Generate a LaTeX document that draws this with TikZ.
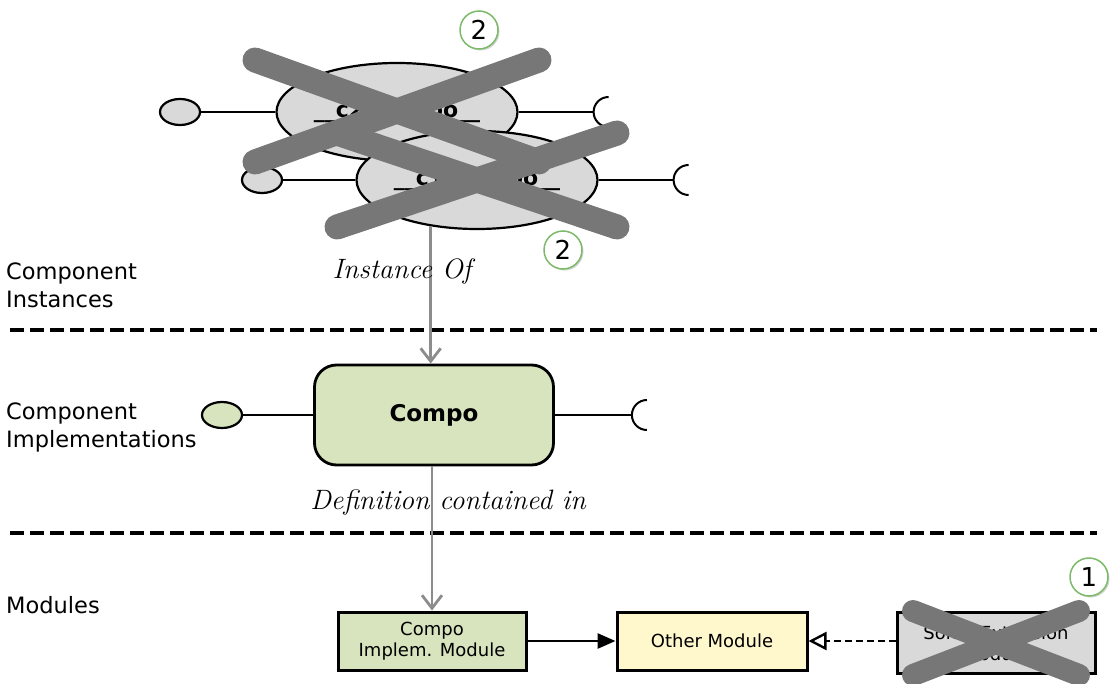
\documentclass[tikz,border=0pt]{standalone}
\usepackage{fontspec}
\setmainfont{DejaVu Sans}
\newfontfamily\handfont{Latin Modern Roman}
\usetikzlibrary{arrows.meta, shapes.geometric, shadows}
\definecolor{instgray}{HTML}{D9D9D9}
\definecolor{implgreen}{HTML}{D7E4BD}
\definecolor{modyellow}{HTML}{FFF8CC}
\definecolor{crossgray}{HTML}{777777}
\definecolor{linkgray}{HTML}{8C8C8C}
\definecolor{badgegreen}{HTML}{7DBA6A}

\tikzset{
  inst/.style={ellipse, draw, line width=2.2, fill=instgray, minimum width=241, minimum height=98, inner sep=0},
  insttext/.style={font=\bfseries\fontsize{22}{24}\selectfont, inner sep=0},
  lolli/.style={ellipse, draw, line width=2.2, minimum width=40, minimum height=26, inner sep=0},
  wire/.style={line width=2},
  impl/.style={rectangle, rounded corners=22, draw, line width=2.8, fill=implgreen,
    minimum width=239, minimum height=100, font=\bfseries\fontsize{23}{26}\selectfont},
  module/.style={rectangle, draw, line width=3, minimum width=188, minimum height=58,
    align=center, font=\fontsize{18}{21}\selectfont},
  sectlbl/.style={anchor=west, align=left, inner sep=0, font=\fontsize{22.5}{28}\selectfont},
  hand/.style={inner sep=0, font=\handfont\itshape\fontsize{28}{30}\selectfont},
  sepline/.style={line width=4, dash pattern=on 14pt off 6pt},
  instof/.style={draw=linkgray, line width=2.8, -{Straight Barb[length=13pt, width=20pt, line width=2.8pt]}},
  uses/.style={line width=2.8, -{Triangle[length=18pt, width=15pt]}},
  extends/.style={line width=2.8, dash pattern=on 7pt off 4pt, -{Triangle[open, length=18pt, width=18pt, line width=2.4pt]}},
  xmark/.style={draw=crossgray, line width=25, line cap=round},
  badge/.style={circle, draw=badgegreen, line width=1.5, fill=white, minimum size=38, inner sep=0,
    drop shadow={shadow xshift=1.5pt, shadow yshift=-1.5pt, fill=black!35},
    font=\fontsize{26}{28}\selectfont},
}

\begin{document}
\begin{tikzpicture}[x=1pt, y=-1pt]
    \useasboundingbox (0,0) rectangle (1110,684);
    % Layer labels
    \node[sectlbl] (lblinst) at (6,285) {Component\\Instances};
    \node[sectlbl] (lblimpl) at (6,427) {Component\\Implementations};
    \node[sectlbl] (lblmod) at (6,605) {Modules};
    % Layer separators
    \coordinate (sepAl) at (10,330);
    \coordinate (sepAr) at (1097,330);
    \coordinate (sepBl) at (10,533);
    \coordinate (sepBr) at (1097,533);
    \draw[sepline] (sepAl) -- (sepAr);
    \draw[sepline] (sepBl) -- (sepBr);
    % Instance c2
    \node[inst] (c2inst) at (397,112) {};
    \node[insttext] (c2text) at (c2inst) {\_\_c2:Compo\_\_};
    \node[lolli, fill=instgray] (c2prov) at (180,112) {};
    \draw[wire] (c2prov) -- (c2inst);
    \draw[wire] (c2inst.east) -- ++(75,0) coordinate (c2sock);
    \draw[wire] (c2sock) ++(15,-15) arc[start angle=90, end angle=270, radius=15pt];
    % Instance c1
    \node[inst] (c1inst) at (477,180) {};
    \node[insttext] (c1text) at (c1inst) {\_\_c1:Compo\_\_};
    \node[lolli, fill=instgray] (c1prov) at (262,180) {};
    \draw[wire] (c1prov) -- (c1inst);
    \draw[wire] (c1inst.east) -- ++(75,0) coordinate (c1sock);
    \draw[wire] (c1sock) ++(15,-15) arc[start angle=90, end angle=270, radius=15pt];
    % Implementation
    \node[impl] (compo) at (434,415) {Compo};
    \node[lolli, fill=implgreen] (compoprov) at (222,415) {};
    \draw[wire] (compoprov) -- (compo);
    \draw[wire] (compo.east) -- ++(77,0) coordinate (composock);
    \draw[wire] (composock) ++(15,-15) arc[start angle=90, end angle=270, radius=15pt];
    % Modules
    \node[module, fill=implgreen] (implmod) at (432,641) {Compo\\Implem. Module};
    \node[module, fill=modyellow, minimum width=190] (othermod) at (712,641) {Other Module};
    \node[module, fill=instgray, minimum width=198, minimum height=61] (extmod) at (996,643) {Some Extension\\Module};
    \draw[uses] (implmod) -- (othermod);
    \draw[extends] (extmod.west |- othermod) -- (othermod);
    % Relations between layers
    \draw[instof] (c1inst.225) -- (c1inst.225 |- compo.north);
    \draw[instof] (implmod.north |- compo.south) -- (implmod.north);
    \node[hand] (instlbl) at (402,272) {Instance Of};
    \node[hand] (deflbl) at (448,502) {Definition contained in};
    % Crossed out
    \draw[xmark] (c2inst.center) ++(-142,-52) -- ++(284,102);
    \draw[xmark] (c2inst.center) ++(142,-52) -- ++(-284,102);
    \draw[xmark] (c1inst.center) ++(-140,-47) -- ++(280,94);
    \draw[xmark] (c1inst.center) ++(140,-47) -- ++(-280,94);
    \draw[xmark, line width=22] (extmod.center) ++(-83,-32) -- ++(166,64);
    \draw[xmark, line width=22] (extmod.center) ++(83,-32) -- ++(-166,64);
    % Badges
    \node[badge] (badgetop) at (479,30) {2};
    \node[badge] (badgemid) at (563,250) {2};
    \node[badge] (badgeext) at (1089,577) {1};
\end{tikzpicture}
\end{document}
